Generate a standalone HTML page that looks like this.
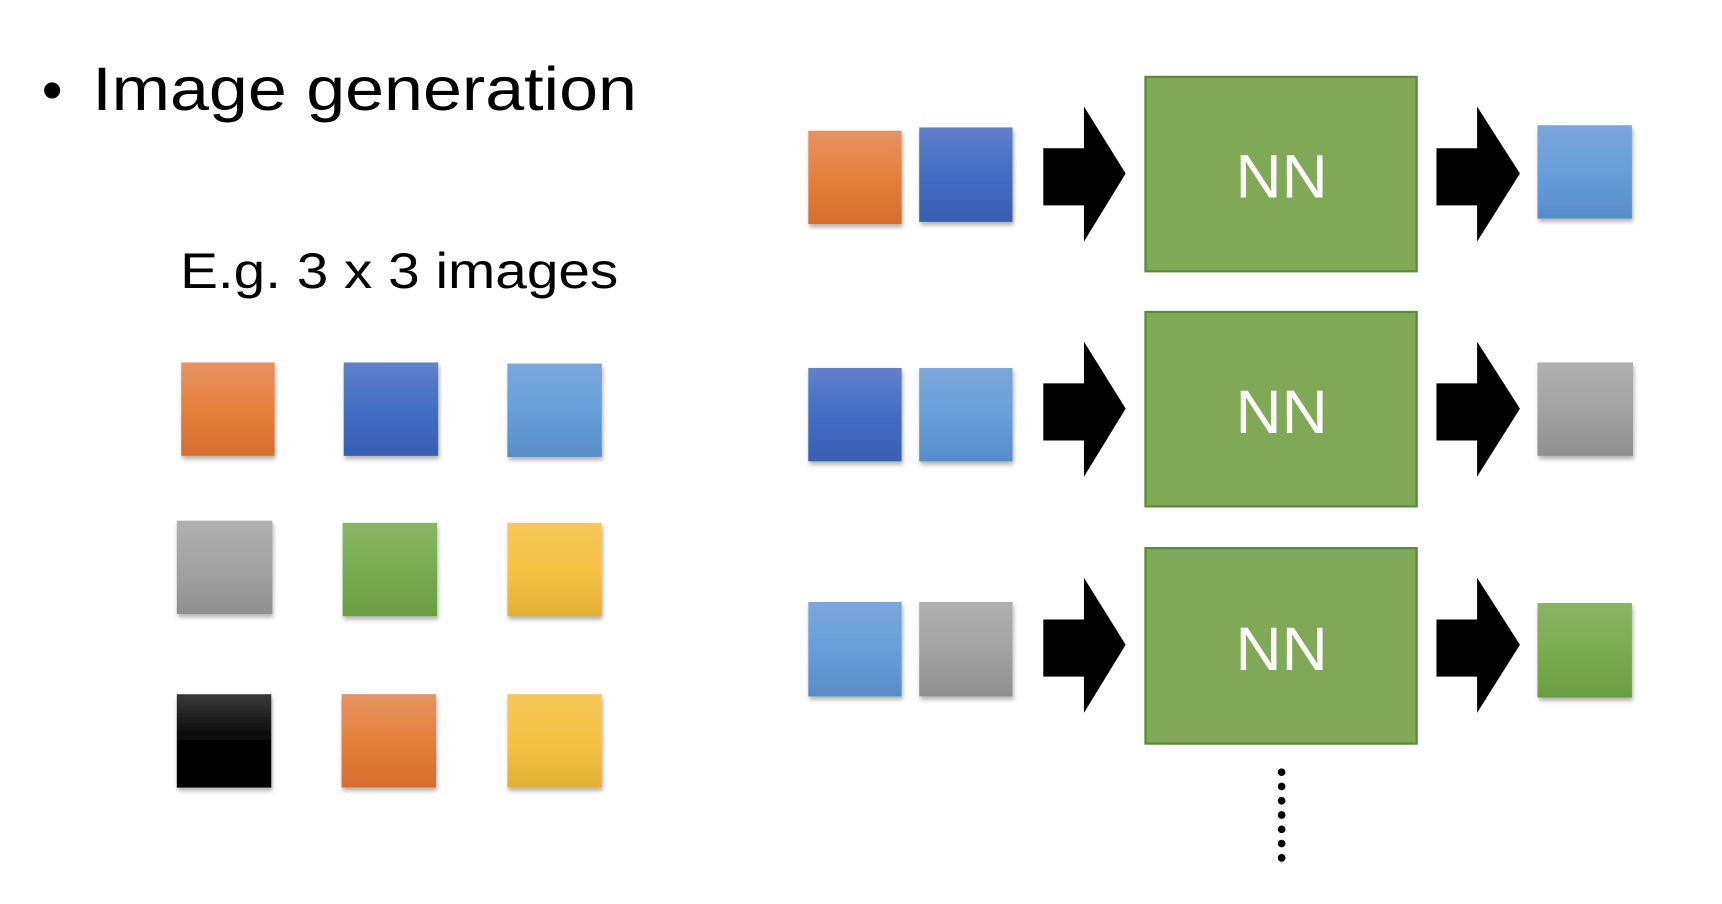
<!DOCTYPE html>
<html><head><meta charset="utf-8"><style>html,body{margin:0;padding:0;background:#fff}svg{display:block}</style></head>
<body>
<svg width="1722" height="904" viewBox="0 0 1568 823" preserveAspectRatio="none" xmlns="http://www.w3.org/2000/svg">
<defs>
<linearGradient id="o" x1="0" y1="0" x2="0" y2="1"><stop offset="0" stop-color="#e69262"/><stop offset="0.5" stop-color="#e67f3a"/><stop offset="1" stop-color="#d66d2e"/></linearGradient>
<linearGradient id="b" x1="0" y1="0" x2="0" y2="1"><stop offset="0" stop-color="#6281ca"/><stop offset="0.5" stop-color="#416ec4"/><stop offset="1" stop-color="#375fb2"/></linearGradient>
<linearGradient id="l" x1="0" y1="0" x2="0" y2="1"><stop offset="0" stop-color="#7ba6da"/><stop offset="0.5" stop-color="#679fda"/><stop offset="1" stop-color="#568cc8"/></linearGradient>
<linearGradient id="g" x1="0" y1="0" x2="0" y2="1"><stop offset="0" stop-color="#b0b0b0"/><stop offset="0.5" stop-color="#a2a2a2"/><stop offset="1" stop-color="#8f8f8f"/></linearGradient>
<linearGradient id="gr" x1="0" y1="0" x2="0" y2="1"><stop offset="0" stop-color="#8bb466"/><stop offset="0.5" stop-color="#7aac4f"/><stop offset="1" stop-color="#6a9c40"/></linearGradient>
<linearGradient id="y" x1="0" y1="0" x2="0" y2="1"><stop offset="0" stop-color="#f6c75a"/><stop offset="0.5" stop-color="#f5c342"/><stop offset="1" stop-color="#e0b035"/></linearGradient>
<linearGradient id="k" x1="0" y1="0" x2="0" y2="1"><stop offset="0" stop-color="#3a3a3a"/><stop offset="0.5" stop-color="#050505"/><stop offset="1" stop-color="#000"/></linearGradient>
<filter id="s" x="-10%" y="-10%" width="130%" height="130%"><feDropShadow dx="1" dy="3" stdDeviation="2" flood-color="#000" flood-opacity="0.3"/></filter>
</defs>
<g font-family="Liberation Sans, sans-serif">
<text x="38" y="100" font-size="54">•</text>
<text x="84" y="100" font-size="56" textLength="496" lengthAdjust="spacingAndGlyphs">Image generation</text>
<text x="164" y="262" font-size="46" textLength="399" lengthAdjust="spacingAndGlyphs">E.g. 3 x 3 images</text>
</g>
<g filter="url(#s)">
<rect x="165" y="330" width="85" height="85" fill="url(#o)"/>
<rect x="313" y="330" width="86" height="85" fill="url(#b)"/>
<rect x="462" y="331" width="86" height="85" fill="url(#l)"/>
<rect x="161" y="474" width="87" height="85" fill="url(#g)"/>
<rect x="312" y="476" width="86" height="85" fill="url(#gr)"/>
<rect x="462" y="476" width="86" height="85" fill="url(#y)"/>
<rect x="161" y="632" width="86" height="85" fill="url(#k)"/>
<rect x="311" y="632" width="86" height="85" fill="url(#o)"/>
<rect x="462" y="632" width="86" height="85" fill="url(#y)"/>

<rect x="736" y="119" width="85" height="85" fill="url(#o)"/>
<rect x="837" y="116" width="85" height="86" fill="url(#b)"/>
<rect x="1400" y="114" width="86" height="85" fill="url(#l)"/>

<rect x="736" y="335" width="85" height="85" fill="url(#b)"/>
<rect x="837" y="335" width="85" height="85" fill="url(#l)"/>
<rect x="1400" y="330" width="87" height="85" fill="url(#g)"/>

<rect x="736" y="548" width="85" height="86" fill="url(#l)"/>
<rect x="837" y="548" width="85" height="86" fill="url(#g)"/>
<rect x="1400" y="549" width="86" height="86" fill="url(#gr)"/>
</g>
<g fill="#000">
<polygon points="950,135 987,135 987,97 1025,158 987,220 987,187 950,187"/>
<polygon points="1308,135 1345,135 1345,97 1384,158 1345,220 1345,187 1308,187"/>
<polygon points="950,349 987,349 987,311 1025,372 987,434 987,401 950,401"/>
<polygon points="1308,349 1345,349 1345,311 1384,372 1345,434 1345,401 1308,401"/>
<polygon points="950,564 987,564 987,526 1025,587 987,649 987,616 950,616"/>
<polygon points="1308,564 1345,564 1345,526 1384,587 1345,649 1345,616 1308,616"/>
</g>
<g fill="#7fa956" stroke="#5c8a3a" stroke-width="2">
<rect x="1043" y="70" width="247" height="177"/>
<rect x="1043" y="284" width="247" height="177"/>
<rect x="1043" y="499" width="247" height="178"/>
</g>
<g font-family="Liberation Sans, sans-serif" font-size="56" fill="#fff" text-anchor="middle">
<text x="1167" y="180" textLength="84" lengthAdjust="spacingAndGlyphs">NN</text>
<text x="1167" y="394" textLength="84" lengthAdjust="spacingAndGlyphs">NN</text>
<text x="1167" y="610" textLength="84" lengthAdjust="spacingAndGlyphs">NN</text>
</g>
<g fill="#000">
<circle cx="1167" cy="703" r="3.5"/><circle cx="1167" cy="716" r="3.5"/><circle cx="1167" cy="729" r="3.5"/><circle cx="1167" cy="742" r="3.5"/><circle cx="1167" cy="755" r="3.5"/><circle cx="1167" cy="768" r="3.5"/><circle cx="1167" cy="781" r="3.5"/>
</g>
</svg>
</body></html>
